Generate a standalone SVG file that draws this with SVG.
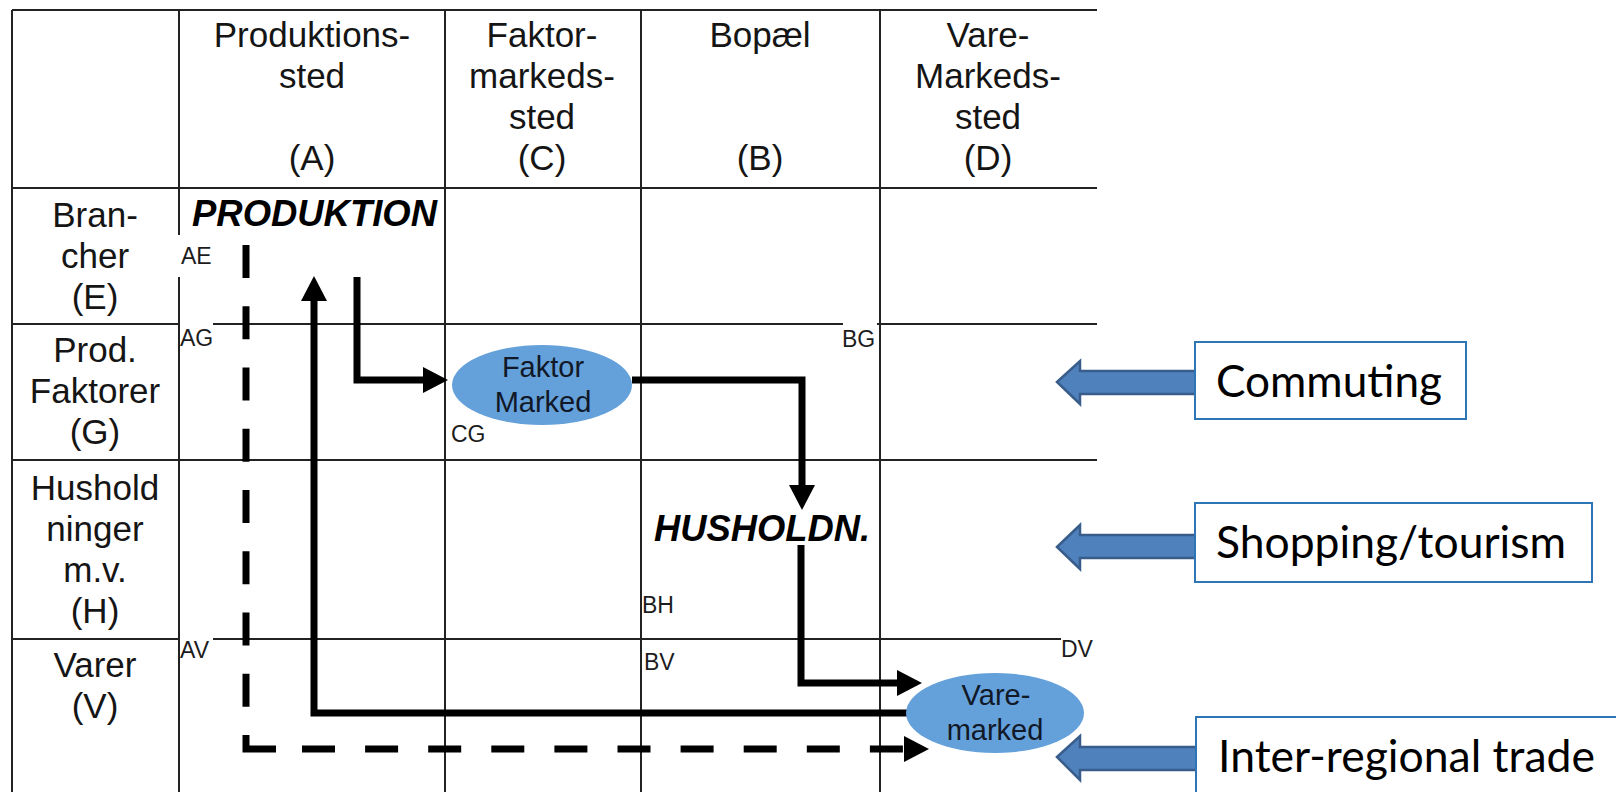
<svg xmlns="http://www.w3.org/2000/svg" width="1616" height="792" viewBox="0 0 1616 792">
  <style>
    .grid { stroke: #222; stroke-width: 2; fill: none; }
    .hdr { font-family: "Liberation Sans", Arial, sans-serif; font-size: 35px; fill: #151515; text-anchor: middle; }
    .lbl { font-family: "Liberation Sans", Arial, sans-serif; font-size: 23px; fill: #1c1c1c; }
    .big { font-family: "Liberation Sans", Arial, sans-serif; font-size: 36px; font-weight: bold; font-style: italic; fill: #000; }
    .ell { fill: #64A0DA; stroke: none; }
    .etx { font-family: "Liberation Sans", Arial, sans-serif; font-size: 29px; fill: #111827; text-anchor: middle; }
    .flow { stroke: #000; stroke-width: 7; fill: none; stroke-linejoin: miter; }
    .dv { stroke-dasharray: 33 28.25; }
    .dh { stroke-dasharray: 33 30.1; }
    .box { fill: #fff; stroke: #2E75B6; stroke-width: 2; }
    .btx { font-family: "Lato", "Liberation Sans", sans-serif; font-size: 44px; fill: #000; }
    .barrow { fill: #4F81BD; stroke: #385D8A; stroke-width: 2.5; stroke-linejoin: miter; }
  </style>
  <defs>
    <marker id="ah" markerUnits="userSpaceOnUse" markerWidth="26" markerHeight="26" refX="0" refY="13" orient="auto" overflow="visible">
      <path d="M0,0 L25,13 L0,26 Z" fill="#000"/>
    </marker>
  </defs>
  <rect width="1616" height="792" fill="#fff"/>

  <g id="grid">
    <line class="grid" x1="12" y1="10" x2="1097" y2="10"/>
    <line class="grid" x1="12" y1="10" x2="12" y2="792"/>
    <line class="grid" x1="12" y1="188" x2="1097" y2="188"/>
    <line class="grid" x1="12" y1="324" x2="179" y2="324"/>
    <line class="grid" x1="213" y1="324" x2="843" y2="324"/>
    <line class="grid" x1="877" y1="324" x2="1097" y2="324"/>
    <line class="grid" x1="12" y1="460" x2="1097" y2="460"/>
    <line class="grid" x1="12" y1="639" x2="179" y2="639"/>
    <line class="grid" x1="213" y1="639" x2="1061" y2="639"/>
    <line class="grid" x1="179" y1="10" x2="179" y2="235"/>
    <line class="grid" x1="179" y1="277" x2="179" y2="792"/>
    <line class="grid" x1="445" y1="10" x2="445" y2="792"/>
    <line class="grid" x1="641" y1="10" x2="641" y2="792"/>
    <line class="grid" x1="880" y1="10" x2="880" y2="792"/>
  </g>

  <g id="col-headers">
    <text class="hdr" x="312" y="47">Produktions-</text>
    <text class="hdr" x="312" y="88">sted</text>
    <text class="hdr" x="312" y="170">(A)</text>
    <text class="hdr" x="542" y="47">Faktor-</text>
    <text class="hdr" x="542" y="88">markeds-</text>
    <text class="hdr" x="542" y="129">sted</text>
    <text class="hdr" x="542" y="170">(C)</text>
    <text class="hdr" x="760" y="47">Bopæl</text>
    <text class="hdr" x="760" y="170">(B)</text>
    <text class="hdr" x="988" y="47">Vare-</text>
    <text class="hdr" x="988" y="88">Markeds-</text>
    <text class="hdr" x="988" y="129">sted</text>
    <text class="hdr" x="988" y="170">(D)</text>
  </g>

  <g id="row-headers">
    <text class="hdr" x="95" y="227">Bran-</text>
    <text class="hdr" x="95" y="268">cher</text>
    <text class="hdr" x="95" y="309">(E)</text>
    <text class="hdr" x="95" y="362">Prod.</text>
    <text class="hdr" x="95" y="403">Faktorer</text>
    <text class="hdr" x="95" y="444">(G)</text>
    <text class="hdr" x="95" y="500">Hushold</text>
    <text class="hdr" x="95" y="541">ninger</text>
    <text class="hdr" x="95" y="582">m.v.</text>
    <text class="hdr" x="95" y="623">(H)</text>
    <text class="hdr" x="95" y="677">Varer</text>
    <text class="hdr" x="95" y="718">(V)</text>
  </g>

  <g id="cell-labels">
    <text class="lbl" x="181" y="264">AE</text>
    <text class="lbl" x="180" y="346">AG</text>
    <text class="lbl" x="180" y="658">AV</text>
    <text class="lbl" x="451" y="442">CG</text>
    <text class="lbl" x="842" y="347">BG</text>
    <text class="lbl" x="642" y="613">BH</text>
    <text class="lbl" x="644" y="670">BV</text>
    <text class="lbl" x="1061" y="657">DV</text>
  </g>

  <g id="connectors">
    <path class="flow" d="M910,713 H314 V301" marker-end="url(#ah)"/>
    <path class="flow" d="M357,277 V380 H423" marker-end="url(#ah)"/>
    <path class="flow" d="M632,380 H802 V485" marker-end="url(#ah)"/>
    <path class="flow" d="M801,545 V683 H897" marker-end="url(#ah)"/>
    <g id="dashed-trade">
      <path class="flow dv" d="M246,245 V735"/>
      <path class="flow" d="M246,735 V749 H276"/>
      <path class="flow dh" d="M302,749 H904" marker-end="url(#ah)"/>
    </g>
  </g>

  <g id="produktion">
    <text class="big" x="192" y="226" textLength="245" lengthAdjust="spacingAndGlyphs">PRODUKTION</text>
  </g>
  <g id="husholdn">
    <text class="big" x="654" y="541" textLength="216" lengthAdjust="spacingAndGlyphs">HUSHOLDN.</text>
  </g>

  <g id="faktor-marked">
    <ellipse class="ell" cx="542" cy="385" rx="90" ry="40"/>
    <text class="etx" x="543" y="377">Faktor</text>
    <text class="etx" x="543" y="412">Marked</text>
  </g>

  <g id="vare-marked">
    <ellipse class="ell" cx="995" cy="713" rx="89" ry="40"/>
    <text class="etx" x="996" y="705">Vare-</text>
    <text class="etx" x="995" y="740">marked</text>
  </g>

  <g id="commuting">
    <path class="barrow" d="M1057,382 L1080,361 L1080,371 L1197,371 L1197,394 L1080,394 L1080,404 Z"/>
    <rect class="box" x="1195" y="342" width="271" height="77"/>
    <text class="btx" x="1216" y="397" textLength="226" lengthAdjust="spacingAndGlyphs">Commuting</text>
  </g>

  <g id="shopping-tourism">
    <path class="barrow" d="M1057,547 L1080,525 L1080,535 L1197,535 L1197,558 L1080,558 L1080,569 Z"/>
    <rect class="box" x="1195" y="503" width="397" height="79"/>
    <text class="btx" x="1216" y="558" textLength="350" lengthAdjust="spacingAndGlyphs">Shopping/tourism</text>
  </g>

  <g id="inter-regional-trade">
    <path class="barrow" d="M1057,757 L1080,736 L1080,747 L1198,747 L1198,770 L1080,770 L1080,780 Z"/>
    <rect class="box" x="1196" y="717" width="500" height="200"/>
    <text class="btx" x="1218" y="772" textLength="377" lengthAdjust="spacingAndGlyphs">Inter-regional trade</text>
  </g>
</svg>
